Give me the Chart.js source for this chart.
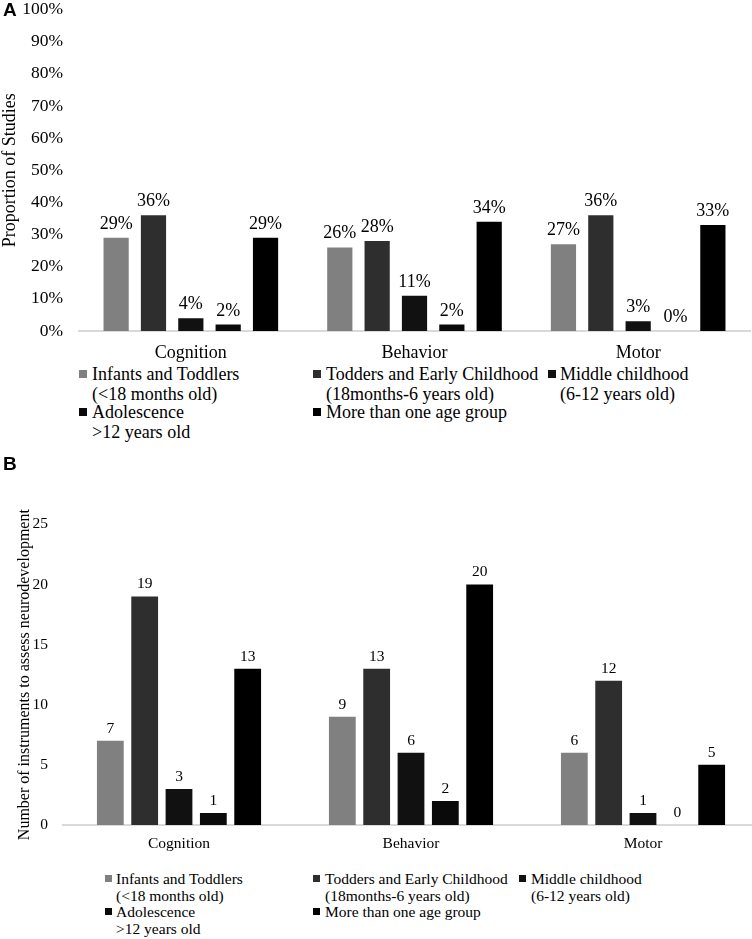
<!DOCTYPE html>
<html>
<head>
<meta charset="utf-8">
<script src="https://cdn.jsdelivr.net/npm/chart.js@4.4.1/dist/chart.umd.min.js"></script>
<style>
  body { margin: 0; background: #fff; width: 752px; height: 939px; position: relative; overflow: hidden; font-family: 'Liberation Serif', 'Times New Roman', serif; color: #000; }
  canvas { position: absolute; left: 0; }
  .panel { position: absolute; left: 3px; line-height: 20px; font: bold 19px 'Liberation Sans', Arial, sans-serif; }
  .lg { position: absolute; white-space: nowrap; }
  .sw { position: absolute; }
</style>
</head>
<body>
<canvas id="chartA" width="752" height="380" style="top:-17px"></canvas>
<div class="panel" style="top:-1px">A</div>
<div id="legendA"></div>
<div class="panel" style="top:453px">B</div>
<canvas id="chartB" width="760" height="355" style="top:500px"></canvas>
<div id="legendB"></div>
<script>
// ── DATA ───────────────────────────────────────────────────────
const categories = ['Cognition', 'Behavior', 'Motor'];
const seriesNames = [
  'Infants and Toddlers (<18 months old)',
  'Todders and Early Childhood (18months-6 years old)',
  'Middle childhood (6-12 years old)',
  'Adolescence >12 years old',
  'More than one age group'
];
const legendLines = [
  ['Infants and Toddlers', '(<18 months old)'],
  ['Todders and Early Childhood', '(18months-6 years old)'],
  ['Middle childhood', '(6-12 years old)'],
  ['Adolescence', '>12 years old'],
  ['More than one age group']
];
const seriesColors = ['#808080', '#2e2e2e', '#111111', '#0a0a0a', '#000000'];

// panel A: proportion of studies (%)
const pctInfants     = [29, 26, 27];
const pctToddlers    = [36, 28, 36];
const pctMiddle      = [4, 11, 3];
const pctAdolescence = [2, 2, 0];
const pctMultiple    = [29, 34, 33];
const pctTicks = [0, 10, 20, 30, 40, 50, 60, 70, 80, 90, 100];

// panel B: number of instruments
const cntInfants     = [7, 9, 6];
const cntToddlers    = [19, 13, 12];
const cntMiddle      = [3, 6, 1];
const cntAdolescence = [1, 2, 0];
const cntMultiple    = [13, 20, 5];
const cntTicks = [0, 5, 10, 15, 20, 25];

const SERIF = "'Liberation Serif', 'Times New Roman', serif";

// ── VALUE LABELS ───────────────────────────────────────────────
const valueLabels = {
  id: 'valueLabels',
  afterDatasetsDraw(chart, args, opts) {
    const ctx = chart.ctx;
    ctx.save();
    ctx.font = opts.size + 'px ' + SERIF;
    ctx.fillStyle = '#000';
    ctx.textAlign = 'center';
    ctx.textBaseline = 'alphabetic';
    chart.data.datasets.forEach((ds, i) => {
      chart.getDatasetMeta(i).data.forEach((bar, j) => {
        ctx.fillText(ds.data[j] + opts.suffix, bar.x, bar.y - opts.offset);
      });
    });
    ctx.restore();
  }
};

function makeChart(id, series, ticks, o) {
  const canvas = document.getElementById(id);
  return new Chart(canvas, {
    type: 'bar',
    data: {
      labels: categories,
      datasets: series.map((data, i) => ({
        label: seriesNames[i],
        data,
        backgroundColor: seriesColors[i],
        borderWidth: 0,
        categoryPercentage: o.catPct,
        barPercentage: o.barPct
      }))
    },
    plugins: [valueLabels],
    options: {
      responsive: false,
      animation: false,
      layout: { padding: { top: o.padTop, right: o.padRight, left: 0, bottom: 0 } },
      plugins: {
        legend: { display: false },
        tooltip: { enabled: false },
        valueLabels: { size: o.labelSize, suffix: o.suffix, offset: o.labelOffset }
      },
      scales: {
        x: {
          grid: { display: false, drawTicks: false },
          border: { display: true, color: '#d9d9d9', width: 2 },
          ticks: { color: '#000', font: { family: SERIF, size: o.fontSize }, padding: o.xPad },
          afterFit: s => { s.height = o.xHeight; }
        },
        y: {
          min: ticks[0],
          max: ticks[ticks.length - 1],
          afterBuildTicks: s => { s.ticks = ticks.map(v => ({ value: v })); },
          grid: { display: false, drawTicks: false },
          border: { display: false },
          ticks: {
            color: '#000',
            font: { family: SERIF, size: o.tickSize },
            padding: o.yPad,
            callback: v => v + o.suffix
          },
          title: {
            display: true,
            text: o.yTitle,
            color: '#000',
            font: { family: SERIF, size: o.titleSize },
            padding: { top: o.titlePad, bottom: 0 }
          },
          afterFit: s => { s.width = o.yWidth; }
        }
      }
    }
  });
}

makeChart('chartA',
  [pctInfants, pctToddlers, pctMiddle, pctAdolescence, pctMultiple], pctTicks, {
    catPct: 0.835, barPct: 0.675, padTop: 0, padRight: 2,
    fontSize: 18, tickSize: 17.5, labelSize: 18, labelOffset: 9, suffix: '%',
    xPad: 11, xHeight: 32, yPad: 16, yWidth: 79,
    yTitle: 'Proportion of Studies', titleSize: 18, titlePad: -1
  });

makeChart('chartB',
  [cntInfants, cntToddlers, cntMiddle, cntAdolescence, cntMultiple], cntTicks, {
    catPct: 0.74, barPct: 0.78, padTop: 24, padRight: 1,
    fontSize: 15.5, tickSize: 15.5, labelSize: 15.5, labelOffset: 8, suffix: '',
    xPad: 10, xHeight: 30, yPad: 15, yWidth: 63,
    yTitle: 'Number of instruments to assess neurodevelopment', titleSize: 16, titlePad: 15
  });

// ── LEGENDS ────────────────────────────────────────────────────
function buildLegend(id, spots, fontSize, lineH, box) {
  const host = document.getElementById(id);
  spots.forEach((p, i) => {
    const sw = document.createElement('span');
    sw.className = 'sw';
    sw.style.cssText = `left:${p.sx}px;top:${p.y - box / 2}px;width:${box}px;height:${box}px;background:${seriesColors[i]}`;
    host.appendChild(sw);
    const tx = document.createElement('div');
    tx.className = 'lg';
    tx.style.cssText = `left:${p.tx}px;top:${p.y - lineH / 2}px;font-size:${fontSize}px;line-height:${lineH}px`;
    tx.innerHTML = legendLines[i].map(t => t.replace(/&/g, '&amp;').replace(/</g, '&lt;').replace(/>/g, '&gt;')).join('<br>');
    host.appendChild(tx);
  });
}

buildLegend('legendA', [
  { sx: 79, tx: 92, y: 374 }, { sx: 313, tx: 326, y: 374 }, { sx: 548, tx: 560, y: 374 },
  { sx: 79, tx: 92, y: 412 }, { sx: 313, tx: 326, y: 412 }
], 18, 20.5, 8);

buildLegend('legendB', [
  { sx: 105, tx: 116, y: 878 }, { sx: 313, tx: 325, y: 878 }, { sx: 519, tx: 531, y: 878 },
  { sx: 105, tx: 116, y: 911 }, { sx: 313, tx: 325, y: 911 }
], 15.5, 17, 7);
</script>
</body>
</html>
